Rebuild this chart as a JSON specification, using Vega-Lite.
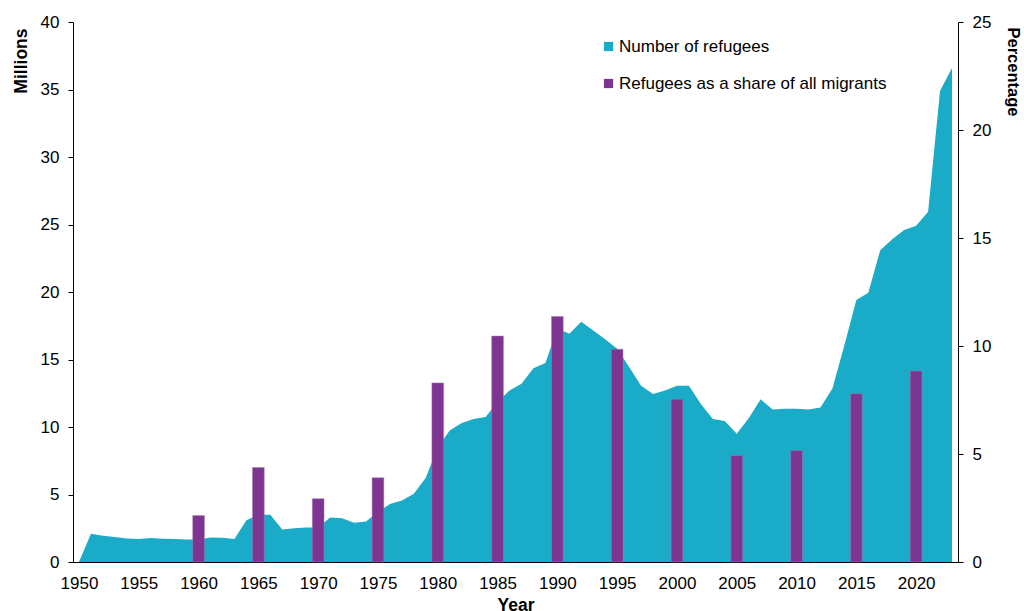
{
  "$schema": "https://vega.github.io/schema/vega-lite/v6.json",
  "width": 885,
  "height": 540,
  "autosize": {"type": "none"},
  "padding": {"left": 73, "top": 22, "right": 66, "bottom": 49},
  "config": {
    "font": "Liberation Sans",
    "view": {"stroke": null},
    "axis": {
      "labelFont": "Liberation Sans",
      "labelFontSize": 17,
      "labelColor": "#000",
      "titleFont": "Liberation Sans",
      "titleFontSize": 17.5,
      "titleFontWeight": "bold",
      "titleColor": "#000",
      "domainColor": "#000",
      "tickColor": "#000",
      "grid": false
    }
  },
  "datasets": {
    "refugees": [
      {"year": 1950, "millions": 0},
      {"year": 1951, "millions": 2.1},
      {"year": 1952, "millions": 1.95},
      {"year": 1953, "millions": 1.85},
      {"year": 1954, "millions": 1.75},
      {"year": 1955, "millions": 1.7},
      {"year": 1956, "millions": 1.77},
      {"year": 1957, "millions": 1.72},
      {"year": 1958, "millions": 1.7},
      {"year": 1959, "millions": 1.67},
      {"year": 1960, "millions": 1.67},
      {"year": 1961, "millions": 1.82},
      {"year": 1962, "millions": 1.8},
      {"year": 1963, "millions": 1.7},
      {"year": 1964, "millions": 3.1},
      {"year": 1965, "millions": 3.5},
      {"year": 1966, "millions": 3.5},
      {"year": 1967, "millions": 2.4},
      {"year": 1968, "millions": 2.5},
      {"year": 1969, "millions": 2.55},
      {"year": 1970, "millions": 2.55},
      {"year": 1971, "millions": 3.3},
      {"year": 1972, "millions": 3.25},
      {"year": 1973, "millions": 2.9},
      {"year": 1974, "millions": 3.0},
      {"year": 1975, "millions": 3.7},
      {"year": 1976, "millions": 4.3},
      {"year": 1977, "millions": 4.55},
      {"year": 1978, "millions": 5.05},
      {"year": 1979, "millions": 6.25},
      {"year": 1980, "millions": 8.5},
      {"year": 1981, "millions": 9.75},
      {"year": 1982, "millions": 10.3},
      {"year": 1983, "millions": 10.6},
      {"year": 1984, "millions": 10.75},
      {"year": 1985, "millions": 11.85},
      {"year": 1986, "millions": 12.7},
      {"year": 1987, "millions": 13.2},
      {"year": 1988, "millions": 14.35},
      {"year": 1989, "millions": 14.75},
      {"year": 1990, "millions": 17.3},
      {"year": 1991, "millions": 16.9},
      {"year": 1992, "millions": 17.8},
      {"year": 1993, "millions": 17.15},
      {"year": 1994, "millions": 16.5},
      {"year": 1995, "millions": 15.8},
      {"year": 1996, "millions": 14.45},
      {"year": 1997, "millions": 13.05},
      {"year": 1998, "millions": 12.45},
      {"year": 1999, "millions": 12.7},
      {"year": 2000, "millions": 13.05},
      {"year": 2001, "millions": 13.05},
      {"year": 2002, "millions": 11.7},
      {"year": 2003, "millions": 10.6},
      {"year": 2004, "millions": 10.45},
      {"year": 2005, "millions": 9.5},
      {"year": 2006, "millions": 10.65},
      {"year": 2007, "millions": 12.05},
      {"year": 2008, "millions": 11.3},
      {"year": 2009, "millions": 11.35},
      {"year": 2010, "millions": 11.35},
      {"year": 2011, "millions": 11.3},
      {"year": 2012, "millions": 11.45},
      {"year": 2013, "millions": 12.85},
      {"year": 2014, "millions": 16.05},
      {"year": 2015, "millions": 19.4},
      {"year": 2016, "millions": 19.95},
      {"year": 2017, "millions": 23.1},
      {"year": 2018, "millions": 23.9},
      {"year": 2019, "millions": 24.6},
      {"year": 2020, "millions": 24.9},
      {"year": 2021, "millions": 25.95},
      {"year": 2022, "millions": 34.9},
      {"year": 2023, "millions": 36.6}
    ],
    "share": [
      {"year": 1960, "percent": 2.15},
      {"year": 1965, "percent": 4.37},
      {"year": 1970, "percent": 2.93},
      {"year": 1975, "percent": 3.9},
      {"year": 1980, "percent": 8.29},
      {"year": 1985, "percent": 10.46},
      {"year": 1990, "percent": 11.36},
      {"year": 1995, "percent": 9.85},
      {"year": 2000, "percent": 7.54},
      {"year": 2005, "percent": 4.93},
      {"year": 2010, "percent": 5.16},
      {"year": 2015, "percent": 7.79},
      {"year": 2020, "percent": 8.84}
    ]
  },
  "layer": [
    {
      "data": {"name": "refugees"},
      "mark": {"type": "area", "color": "#1aabc8"},
      "encoding": {
        "x": {
          "field": "year",
          "type": "quantitative",
          "scale": {"domain": [1949.5, 2023.5], "nice": false, "zero": false, "padding": 0},
          "axis": {
            "title": "Year",
            "values": [1950, 1955, 1960, 1965, 1970, 1975, 1980, 1985, 1990, 1995, 2000, 2005, 2010, 2015, 2020],
            "format": "d",
            "ticks": false,
            "labelPadding": 13,
            "titlePadding": 5
          }
        },
        "y": {
          "field": "millions",
          "type": "quantitative",
          "scale": {"domain": [0, 40], "nice": false},
          "axis": {
            "title": "Millions",
            "titleAnchor": "end",
            "titleAlign": "right",
            "titleY": 6,
            "values": [0, 5, 10, 15, 20, 25, 30, 35, 40],
            "tickSize": 5,
            "labelPadding": 9,
            "titlePadding": 10
          }
        },
        "color": {
          "datum": "Number of refugees",
          "type": "nominal",
          "scale": {
            "domain": ["Number of refugees", "Refugees as a share of all migrants"],
            "range": ["#1aabc8", "#7e3591"]
          },
          "legend": {
            "title": null,
            "orient": "none",
            "legendX": 527,
            "legendY": 16,
            "padding": 0,
            "symbolType": "square",
            "symbolSize": 85,
            "symbolStrokeWidth": 0,
            "labelFontSize": 17,
            "labelFont": "Liberation Sans",
            "labelColor": "#000",
            "labelOffset": 2,
            "labelLimit": 0,
            "rowPadding": 19
          }
        }
      }
    },
    {
      "data": {"name": "share"},
      "mark": {"type": "bar", "width": 11.7, "stroke": "#a47ab0", "strokeWidth": 0.5},
      "encoding": {
        "x": {"field": "year", "type": "quantitative"},
        "y": {
          "field": "percent",
          "type": "quantitative",
          "scale": {"domain": [0, 25], "nice": false},
          "axis": {
            "orient": "right",
            "title": "Percentage",
            "titleFontSize": 16.5,
            "titleAnchor": "end",
            "titleAlign": "left",
            "titleY": 5,
            "values": [0, 5, 10, 15, 20, 25],
            "tickSize": 5,
            "labelPadding": 9,
            "titlePadding": 14
          }
        },
        "color": {"datum": "Refugees as a share of all migrants", "type": "nominal"}
      }
    }
  ],
  "resolve": {"scale": {"y": "independent"}}
}
